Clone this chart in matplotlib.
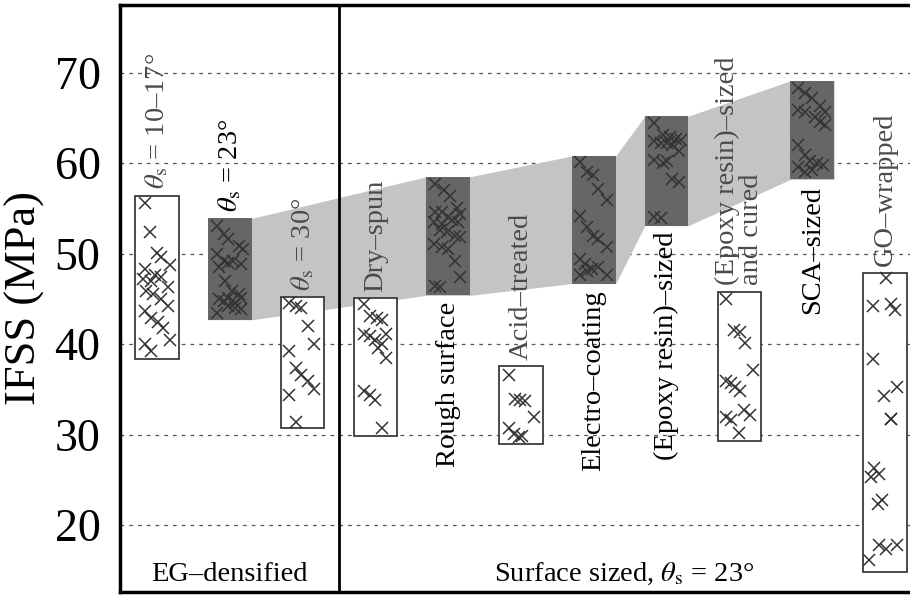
import numpy as np
import matplotlib.pyplot as plt

plt.rcParams['font.family'] = ['Liberation Serif', 'DejaVu Serif']
plt.rcParams['mathtext.fontset'] = 'stix'

# column labels, left to right
labels = [r'$\theta_{\mathrm{s}}$ = 10–17°', r'$\theta_{\mathrm{s}}$ = 23°', r'$\theta_{\mathrm{s}}$ = 30°',
          'Dry–spun', 'Rough surface', 'Acid–treated', 'Electro–coating',
          '(Epoxy resin)–sized', '(Epoxy resin)–sized\nand cured', 'SCA–sized', 'GO–wrapped']
dark = [False, True, False, False, True, False, True, True, False, True, False]
label_above = [True, True, True, True, False, True, False, False, True, False, True]

# range boxes (MPa)
box_low = [38.4, 42.7, 30.7, 29.9, 45.4, 29.0, 46.7, 53.1, 29.3, 58.2, 14.8]
box_high = [56.4, 53.9, 45.2, 45.1, 58.5, 37.6, 60.8, 65.2, 45.8, 69.1, 47.9]

# individual measurements (MPa) and their horizontal place inside each box
ifss = [
    [55.6, 52.4, 50.1, 49.6, 48.7, 48.3, 47.7, 47.4, 47.2, 47.0, 46.3, 45.9, 45.5, 45.0, 44.2, 43.7, 42.9, 42.4, 41.8, 40.5, 40.0, 39.2],
    [53.1, 52.2, 51.6, 50.9, 50.5, 50.0, 49.2, 49.0, 49.2, 48.9, 48.5, 47.0, 45.9, 45.5, 45.0, 44.8, 45.1, 44.6, 45.1, 43.5, 44.2, 43.9, 44.0],
    [44.6, 44.2, 44.0, 42.0, 40.0, 39.2, 37.4, 36.6, 35.9, 35.0, 34.4, 31.4],
    [44.4, 43.1, 42.9, 42.7, 41.1, 40.9, 40.5, 40.0, 41.1, 39.6, 38.5, 34.8, 34.4, 33.8, 30.7],
    [57.7, 57.0, 56.4, 54.6, 54.6, 54.0, 55.0, 54.4, 53.5, 53.3, 53.7, 53.5, 52.6, 52.4, 52.0, 51.8, 51.1, 50.7, 50.5, 49.2, 47.4, 46.4, 46.3],
    [36.6, 34.0, 33.8, 33.7, 32.0, 30.7, 30.1, 29.8, 29.9],
    [60.1, 59.0, 58.7, 57.2, 55.9, 54.2, 52.9, 52.0, 51.6, 50.7, 49.4, 48.9, 48.3, 48.5, 47.7, 47.7, 48.1],
    [64.4, 63.1, 62.9, 62.7, 62.4, 62.2, 62.2, 62.0, 62.6, 61.3, 60.3, 60.0, 60.2, 58.3, 57.9, 54.0, 53.9],
    [45.0, 41.6, 41.3, 40.1, 37.2, 35.9, 35.7, 35.3, 34.8, 32.0, 31.6, 32.7, 32.2, 30.2],
    [68.3, 67.7, 67.2, 65.9, 65.7, 66.3, 65.7, 65.1, 64.6, 64.2, 62.0, 60.9, 60.2, 60.0, 59.8, 59.6, 59.0, 59.2],
    [47.3, 44.2, 44.4, 43.8, 38.4, 34.3, 35.3, 31.7, 31.7, 26.3, 25.7, 25.3, 22.4, 22.8, 17.8, 17.4, 17.8, 16.2],
]
offsets = [
    [-0.17, -0.09, 0.0, 0.06, 0.18, -0.17, -0.03, 0.06, -0.19, -0.08, 0.15, -0.15, -0.06, 0.06, 0.15, -0.17, -0.08, 0.01, 0.08, 0.18, -0.17, -0.08],
    [-0.17, -0.08, -0.02, 0.12, 0.18, -0.17, -0.08, -0.02, 0.05, 0.16, -0.15, -0.06, 0.03, 0.12, -0.15, -0.08, -0.02, 0.07, 0.16, -0.17, -0.02, 0.16, 0.07],
    [-0.18, -0.09, -0.02, 0.07, 0.16, -0.18, -0.09, -0.02, 0.07, 0.16, -0.18, -0.09],
    [-0.16, -0.07, 0.02, 0.09, -0.16, -0.07, 0.0, 0.09, 0.15, 0.04, 0.15, -0.16, -0.07, 0.0, 0.09],
    [-0.18, -0.06, 0.03, -0.18, -0.09, 0.0, 0.12, 0.16, -0.2, -0.09, 0.05, 0.14, -0.11, -0.02, 0.1, 0.16, -0.2, -0.09, 0.0, 0.1, 0.16, -0.18, -0.11],
    [-0.17, -0.08, -0.01, 0.06, 0.18, -0.17, -0.1, -0.03, 0.01],
    [-0.19, -0.1, -0.01, 0.06, 0.18, -0.19, -0.1, -0.01, 0.06, 0.18, -0.19, -0.12, -0.03, 0.06, 0.18, -0.19, -0.1],
    [-0.17, -0.05, 0.04, 0.13, -0.17, -0.08, 0.01, 0.08, 0.2, 0.17, -0.17, -0.05, 0.01, 0.08, 0.17, -0.17, -0.08],
    [-0.19, -0.08, 0.01, 0.08, 0.18, -0.19, -0.12, -0.06, 0.01, -0.19, -0.12, 0.06, 0.15, -0.01],
    [-0.19, -0.1, -0.01, -0.19, -0.1, 0.1, 0.17, 0.04, 0.1, 0.17, -0.19, -0.1, -0.03, 0.06, 0.15, -0.19, -0.1, -0.01],
    [0.01, -0.17, 0.08, 0.14, -0.17, -0.01, 0.17, 0.08, 0.08, -0.15, -0.08, -0.19, -0.1, -0.04, -0.08, 0.01, 0.17, -0.22],
]

fig = plt.figure(figsize=(9.1, 5.97), dpi=100)
# right spine sits just past the image edge, as in the original
ax = fig.add_axes([120 / 910, 0.008, 792 / 910, 0.984])

x = np.arange(1, len(labels) + 1)
w = 0.6

# grey band joining the dark boxes
bx, btop, bbot = [], [], []
for i in range(len(labels)):
    if dark[i]:
        bx += [x[i] - w / 2, x[i] + w / 2]
        btop += [box_high[i], box_high[i]]
        bbot += [box_low[i], box_low[i]]
ax.fill_between(bx, bbot, btop, color='#c4c4c4', lw=0, zorder=1)

for i in range(len(labels)):
    lo, hi = box_low[i], box_high[i]
    if dark[i]:
        ax.bar(x[i], hi - lo, bottom=lo, width=w, color='#666666', lw=0, zorder=2)
        col = 'black'
    else:
        ax.bar(x[i], hi - lo, bottom=lo, width=w, color='white', edgecolor='#3c3c3c', lw=1.3, zorder=2)
        col = '#4a4a4a'
    ax.plot(x[i] + np.array(offsets[i]), ifss[i], 'x', ms=8, mew=1.1, color='#333333', zorder=3)
    if label_above[i]:
        ax.text(x[i], hi + 0.7, labels[i], rotation=90, ha='center', va='bottom',
                fontsize=20.5, color=col, multialignment='left', linespacing=0.95, zorder=5)
    else:
        ax.text(x[i], lo - 0.7, labels[i], rotation=90, ha='center', va='top',
                fontsize=20.5, color=col, zorder=5)

ax.axvline(3.5, color='black', lw=2, zorder=4)
ax.text(2.0, 14.6, 'EG–densified', ha='center', va='center', fontsize=20.5)
ax.text(7.42, 14.6, r'Surface sized, $\theta_{\mathrm{s}}$ = 23°', ha='center', va='center', fontsize=20.5)

ax.set_xlim(0.492, 11.37)
ax.set_ylim(12.6, 77.5)
ax.set_xticks([])
ax.set_yticks([20, 30, 40, 50, 60, 70])
ax.tick_params(axis='y', length=0, pad=14, labelsize=33)
ax.yaxis.grid(True, linestyle=(0, (3, 4)), color='#555555', lw=0.9)
ax.set_axisbelow(True)
for s in ax.spines.values():
    s.set_linewidth(2.5)
ax.set_ylabel('IFSS (MPa)', fontsize=32)
ax.yaxis.set_label_coords(-0.095, 0.5)

fig.savefig('out.png', dpi=100)
